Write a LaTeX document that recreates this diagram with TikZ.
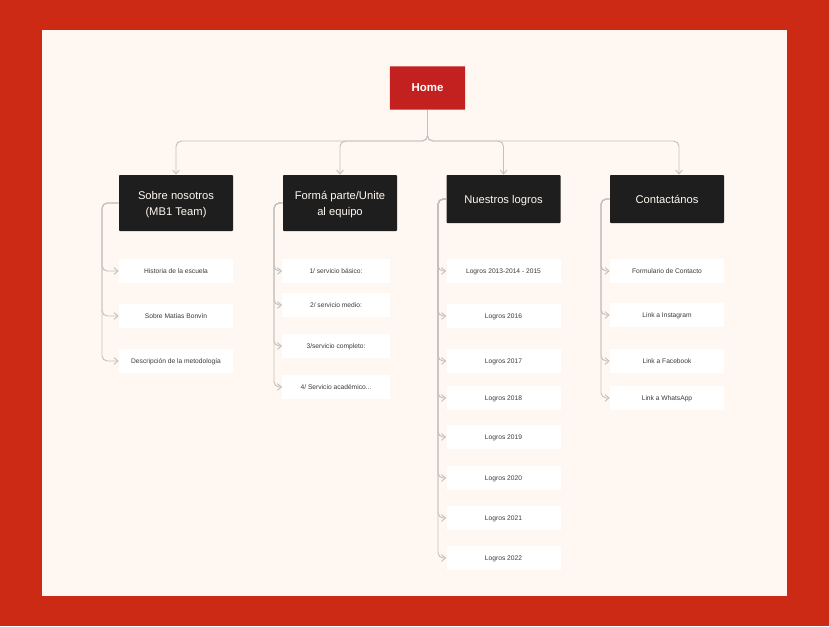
\documentclass[tikz,border=0pt]{standalone}
\usepackage{fontspec}
\setmainfont{Liberation Sans}
\usetikzlibrary{arrows.meta,calc}
\definecolor{frameRed}{HTML}{CC2A14}
\definecolor{paper}{HTML}{FFF8F2}
\definecolor{homeRed}{HTML}{C32020}
\definecolor{boxDark}{HTML}{1E1E1E}
\definecolor{wire}{HTML}{C4C0BB}
\definecolor{leafText}{HTML}{3A3A3A}
\tikzset{
  x=0.75pt,y=-0.75pt,
  homebox/.style={fill=homeRed,minimum width=56.6pt,minimum height=32.6pt,inner sep=0pt,rounded corners=0.5pt,text=white,text depth=0pt,font=\fontsize{8.6}{11}\selectfont\bfseries},
  headbox/.style={fill=boxDark,minimum width=85.5pt,minimum height=42pt,inner sep=0pt,rounded corners=0.7pt,text=paper,align=center,font=\fontsize{8.4}{12}\selectfont},
  headshort/.style={headbox,minimum height=36pt,text depth=0pt},
  leaf/.style={fill=white,minimum width=85.5pt,minimum height=18.5pt,inner sep=0pt,text=leafText,text depth=0pt,font=\fontsize{5}{6}\selectfont},
  leafn/.style={leaf,minimum width=80.5pt},
  bus/.style={draw=wire,line width=0.7pt,rounded corners=4pt,-{Straight Barb[length=3pt,width=5pt]}},
}
\begin{document}
\begin{tikzpicture}
\useasboundingbox (0,0) rectangle (829,626);
\fill[frameRed] (0,0) rectangle (829,626);
\fill[paper] (42,30) rectangle (787,596);

\node[homebox] (home) at (427.5,88) {Home};
\node[headbox] (h1) at (176,203) {\rule{0pt}{8pt}Sobre nosotros\\(MB1 Team)};
\node[headbox] (h2) at (340,203) {\rule{0pt}{8pt}Formá parte/Unite\\al equipo};
\node[headshort] (h3) at (503.5,199) {Nuestros logros};
\node[headshort] (h4) at (667,199) {Contactános};

\node[leaf] (a1) at (176,271) {Historia de la escuela};
\node[leaf] (a2) at (176,316) {Sobre Matías Bonvín};
\node[leaf] (a3) at (176,361) {Descripción de la metodología};

\node[leafn] (b1) at (336,271) {1/ servicio básico:};
\node[leafn] (b2) at (336,305) {2/ servicio medio:};
\node[leafn] (b3) at (336,346) {3/servicio completo:};
\node[leafn] (b4) at (336,387) {4/ Servicio académico...};

\node[leaf] (c1) at (503.5,271) {Logros 2013-2014 - 2015};
\node[leaf] (c2) at (503.5,316) {Logros 2016};
\node[leaf] (c3) at (503.5,361) {Logros 2017};
\node[leaf] (c4) at (503.5,398) {Logros 2018};
\node[leaf] (c5) at (503.5,437) {Logros 2019};
\node[leaf] (c6) at (503.5,478) {Logros 2020};
\node[leaf] (c7) at (503.5,518) {Logros 2021};
\node[leaf] (c8) at (503.5,558) {Logros 2022};

\node[leaf] (d1) at (667,271) {Formulario de Contacto};
\node[leaf] (d2) at (667,315) {Link a Instagram};
\node[leaf] (d3) at (667,361) {Link a Facebook};
\node[leaf] (d4) at (667,398) {Link a WhatsApp};

\coordinate (rail) at (427.5,141);
\coordinate (railend) at (679,141);
\foreach \t in {h1,h2,h3}
  \draw[bus] (home.south) -- (rail) -- (rail -| \t.north) -- (\t.north);
\draw[bus] (home.south) -- (rail) -- (railend) -- (railend |- h4.north);

\coordinate (ta) at (102,300);
\coordinate (tb) at (274,300);
\coordinate (tc) at (438,300);
\coordinate (td) at (601,300);
\foreach \n in {a1,a2,a3}
  \draw[bus] (h1.west) -- (h1.west -| ta) -- (ta |- \n.west) -- (\n.west);
\foreach \n in {b1,b2,b3,b4}
  \draw[bus] (h2.west) -- (h2.west -| tb) -- (tb |- \n.west) -- (\n.west);
\foreach \n in {c1,c2,c3,c4,c5,c6,c7,c8}
  \draw[bus] (h3.west) -- (h3.west -| tc) -- (tc |- \n.west) -- (\n.west);
\foreach \n in {d1,d2,d3,d4}
  \draw[bus] (h4.west) -- (h4.west -| td) -- (td |- \n.west) -- (\n.west);
\end{tikzpicture}
\end{document}
